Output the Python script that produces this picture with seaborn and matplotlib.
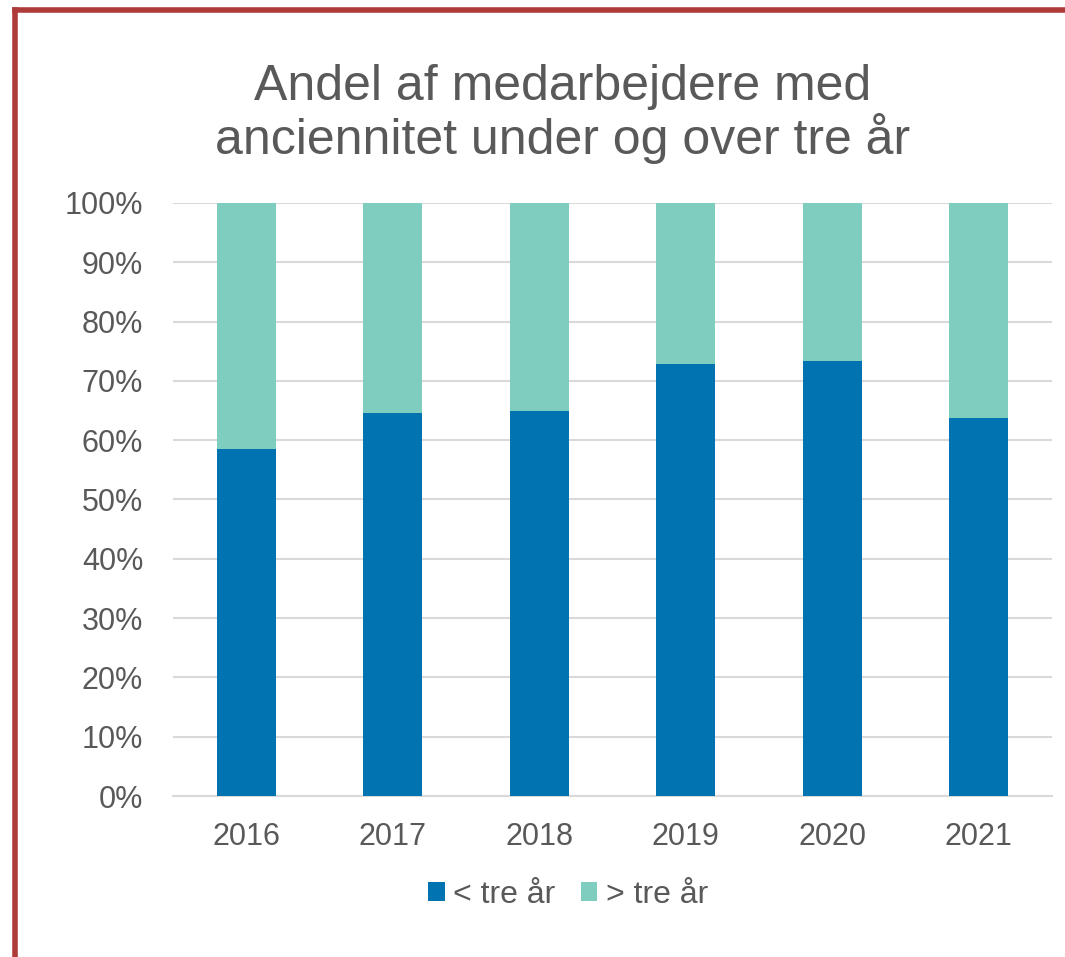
import matplotlib
matplotlib.use("Agg")
import matplotlib.pyplot as plt
from matplotlib.lines import Line2D
from matplotlib.patches import Patch
import seaborn as sns
import pandas as pd

years = ["2016", "2017", "2018", "2019", "2020", "2021"]
under_three = [58.5, 64.6, 64.9, 72.9, 73.4, 63.8]
over_three = [41.5, 35.4, 35.1, 27.1, 26.6, 36.2]
series_labels = ["< tre år", "> tre år"]
yticks = [0, 10, 20, 30, 40, 50, 60, 70, 80, 90, 100]
title = "Andel af medarbejdere med\nanciennitet under og over tre år"

c_under = "#0073B0"
c_over = "#7FCDBF"
text_col = "#595959"
grid_col = "#D9D9D9"

sns.set_theme(style="white")
plt.rcParams["font.family"] = ["Liberation Sans", "DejaVu Sans"]

df = pd.DataFrame({"year": years, "under": under_three, "over": over_three})
df["total"] = df["under"] + df["over"]

W, H = 1065, 957
fig = plt.figure(figsize=(W / 100, H / 100), dpi=100)
ax = fig.add_axes([173 / W, 1 - 796 / H, (1052 - 173) / W, (796 - 203) / H])

sns.barplot(data=df, x="year", y="total", color=c_over, width=0.4,
            saturation=1, ax=ax, linewidth=0)
sns.barplot(data=df, x="year", y="under", color=c_under, width=0.4,
            saturation=1, ax=ax, linewidth=0)

ax.set_xlim(-0.5, len(years) - 0.5)
ax.set_ylim(0, 100)
ax.set_yticks(yticks)
ax.set_yticklabels([f"{t}%" for t in yticks])
ax.set_xlabel("")
ax.set_ylabel("")
ax.yaxis.grid(True, color=grid_col, linewidth=1.5)
ax.set_axisbelow(True)
for s in ["top", "right", "left"]:
    ax.spines[s].set_visible(False)
ax.spines["bottom"].set_color(grid_col)
ax.spines["bottom"].set_linewidth(1.5)
ax.spines["bottom"].set_zorder(0.5)
ax.tick_params(axis="both", length=0, labelsize=22, colors=text_col)
ax.tick_params(axis="y", pad=21.5)
ax.tick_params(axis="x", pad=19)

fig.text(563 / W, 1 - 114 / H, title, ha="center", va="center",
         fontsize=36, color=text_col, linespacing=1.05)

handles = [Patch(facecolor=c_under, edgecolor="none"),
           Patch(facecolor=c_over, edgecolor="none")]
fig.legend(handles, series_labels, loc="center", ncol=2,
           bbox_to_anchor=(568 / W, 1 - 895 / H), frameon=False,
           fontsize=23, labelcolor=text_col, handlelength=0.52,
           handleheight=0.52, handletextpad=0.26, columnspacing=0.8)

border_col = "#AE3A3A"
lw = 4
x0 = 14.5 / W
y0 = 1 - 10 / H
fig.add_artist(Line2D([x0, x0], [0, y0], transform=fig.transFigure,
                      color=border_col, linewidth=lw, solid_capstyle="projecting"))
fig.add_artist(Line2D([x0, 1], [y0, y0], transform=fig.transFigure,
                      color=border_col, linewidth=lw, solid_capstyle="projecting"))

fig.savefig("out.png", dpi=100)
